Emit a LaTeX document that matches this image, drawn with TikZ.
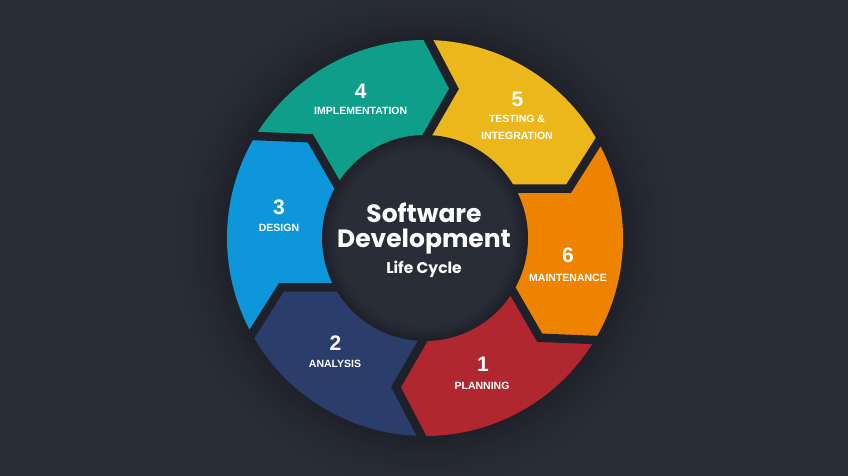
\documentclass[tikz,border=0pt]{standalone}
\usepackage{fontspec}
\setmainfont{Liberation Sans}
\newfontfamily\popfont{Poppins}
\usetikzlibrary{calc}
\definecolor{bgc}{HTML}{292D38}
\definecolor{gapc}{HTML}{1E2129}
\definecolor{tealc}{HTML}{0F9E89}
\definecolor{yellowc}{HTML}{ECB71B}
\definecolor{orangec}{HTML}{EE8300}
\definecolor{redc}{HTML}{B0272F}
\definecolor{navyc}{HTML}{2B3D6A}
\definecolor{bluec}{HTML}{0D97DA}
\definecolor{ctrin}{HTML}{292D38}
\tikzset{
  num/.style={text=white, font=\bfseries\fontsize{21}{21}\selectfont, inner sep=0pt, anchor=base},
  lbl/.style={text=white, font=\bfseries\fontsize{10.5}{10.5}\selectfont, inner sep=0pt, anchor=base},
  title/.style={text=white, font=\popfont\bfseries\fontsize{25}{25}\selectfont, inner sep=0pt, anchor=base},
  subtitle/.style={text=white, font=\popfont\bfseries\fontsize{15.5}{15.5}\selectfont, inner sep=0pt, anchor=base},
  gapline/.style={draw=gapc, line width=8.5pt, line join=miter, line cap=butt}
}
\begin{document}
\begin{tikzpicture}[x=1pt,y=1pt]
\useasboundingbox (0,0) rectangle (848,475);
\clip (0,0) rectangle (848,475);
\fill[bgc] (-2,-2) rectangle (850,477);
\coordinate (C) at (425,237);
% outer soft shadow
\foreach \i in {0,...,33}{
  \pgfmathsetmacro\rad{264-2*\i}
  \pgfmathsetmacro\p{100*(1-(\rad-198)/66)^2}
  \fill[gapc!\p!bgc] (C) circle[radius=\rad];
}
% segments
\foreach \b/\col in {149/tealc, 89/yellowc, 29/orangec, -31/redc, -91/navyc, -151/bluec}{
  \fill[\col] ($(C)+(\b:198)$) arc[start angle=\b, end angle=\b-60, radius=198]
     -- ($(C)+({\b-70}:152)$) -- ($(C)+({\b-60}:102)$)
     arc[start angle=\b-60, end angle=\b, radius=102]
     -- ($(C)+({\b-10}:152)$) -- cycle;
}
% gaps
\foreach \b in {149, 89, 29, -31, -91, -151}{
  \coordinate (O) at ($(C)+(\b:198)$);
  \coordinate (T) at ($(C)+({\b-10}:152)$);
  \coordinate (I) at ($(C)+(\b:102)$);
  \draw[gapline] ($(T)!1.12!(O)$) -- (T) -- ($(T)!1.3!(I)$);
}
% center disc with dark rim
\fill[gapc] (C) circle[radius=103];
\foreach \i in {0,...,14}{
  \pgfmathsetmacro\rad{102-\i}
  \pgfmathsetmacro\p{100*(\i/14)^0.8}
  \fill[ctrin!\p!gapc] (C) circle[radius=\rad];
}
\node[title] (t1) at (424,253) {Software};
\node[title] (t2) at (424,228) {Development};
\node[subtitle] (t3) at (424,202) {Life Cycle};
% labels
\node[num] (n4) at (360.7,376.7) {4};
\node[lbl] (l4) at (360.7,361) {IMPLEMENTATION};
\node[num] (n5) at (517.5,369) {5};
\node[lbl] (l5a) at (517,352.3) {TESTING \&};
\node[lbl] (l5b) at (517,336) {INTEGRATION};
\node[num] (n3) at (279,260.7) {3};
\node[lbl] (l3) at (279,244) {DESIGN};
\node[num] (n6) at (568,212.7) {6};
\node[lbl] (l6) at (568,193.3) {MAINTENANCE};
\node[num] (n2) at (335.5,125) {2};
\node[lbl] (l2) at (335,107.7) {ANALYSIS};
\node[num] (n1) at (483,103.3) {1};
\node[lbl] (l1) at (482,86) {PLANNING};
\end{tikzpicture}
\end{document}
